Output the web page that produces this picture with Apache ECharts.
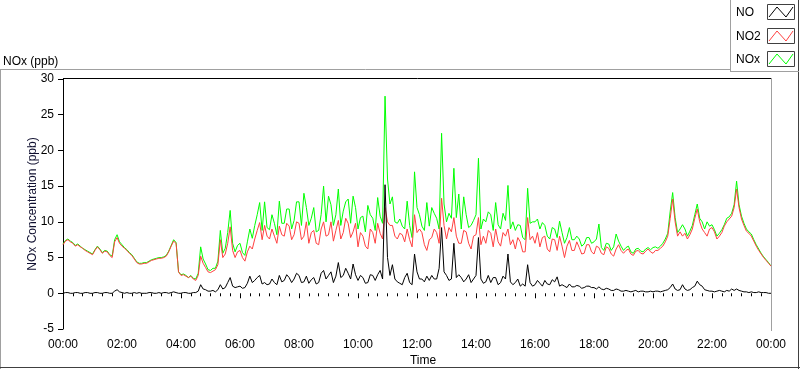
<!DOCTYPE html>
<html><head><meta charset="utf-8">
<script src="https://cdn.jsdelivr.net/npm/echarts@6/dist/echarts.min.js"></script>
<style>html,body{margin:0;padding:0;background:#fff}#c{width:800px;height:369px}</style>
</head><body><div id="c"></div>
<script>
// sampling: one value every 5 minutes from 00:00 to 24:00 (12 values per hour row)
const sampleMinutes = 5;
const xTickLabels = ['00:00','02:00','04:00','06:00','08:00','10:00','12:00','14:00','16:00','18:00','20:00','22:00','00:00'];
const yTicks = [-5, 0, 5, 10, 15, 20, 25, 30];
const seriesNames = ['NO', 'NO2', 'NOx'];

const NO2 = [
6.8,7.3,7.5,7.2,7.0,6.6,6.8,6.5,6.3,6.0,5.8,5.6,
5.4,6.0,6.5,6.1,5.6,5.9,5.8,5.3,5.0,7.2,7.8,7.0,
6.6,6.3,6.0,5.6,5.3,4.8,4.3,4.1,4.1,4.2,4.2,4.4,
4.6,4.7,4.8,4.9,4.9,5.0,5.2,5.8,6.6,7.3,7.0,3.0,
2.5,2.6,2.4,2.2,2.4,2.0,1.8,2.5,5.2,4.2,3.6,3.0,
2.9,3.1,3.3,4.0,7.5,5.0,5.5,7.0,9.3,6.0,5.0,5.8,
6.0,5.0,4.5,5.8,6.6,6.2,7.6,8.8,9.9,7.5,9.5,8.0,
7.6,9.0,8.0,7.0,9.4,8.2,8.0,9.8,9.4,7.5,8.2,10.0,
9.8,7.5,8.0,10.0,7.0,8.5,8.8,7.0,6.8,9.0,10.0,8.0,
8.2,10.0,7.3,8.8,10.2,7.6,8.5,10.5,9.8,7.8,8.6,9.8,
6.5,8.5,8.0,6.6,6.2,9.0,8.5,7.0,9.8,8.4,7.6,12.0,
10.0,9.5,9.5,8.0,7.6,8.4,8.2,7.2,9.0,7.5,6.5,11.0,
8.5,9.0,8.5,6.8,6.0,7.5,7.8,9.0,8.5,7.0,13.3,9.5,
7.6,9.2,8.6,10.6,8.0,7.0,7.0,8.8,8.6,7.0,6.2,8.0,
8.2,10.6,6.8,8.0,7.0,8.8,8.4,6.5,9.0,7.2,6.6,8.5,
8.0,9.0,6.8,7.5,6.2,7.8,7.2,5.8,5.8,10.6,7.5,8.0,
7.0,8.5,6.5,7.8,8.0,6.2,5.8,7.6,7.5,6.0,8.0,6.6,
5.0,6.6,7.4,6.0,6.0,7.2,6.4,5.5,5.6,6.8,6.8,5.8,
5.5,6.6,6.4,5.6,5.4,6.5,6.3,5.5,5.2,6.2,6.8,6.0,
5.6,6.0,6.2,5.5,5.3,5.9,6.0,5.6,5.5,5.9,6.2,5.8,
5.6,6.0,6.0,6.3,6.6,7.2,8.0,10.5,13.2,10.0,8.0,8.6,
8.0,8.4,7.6,8.2,9.0,10.5,11.8,10.0,9.0,8.5,8.0,9.0,
9.2,8.6,7.6,8.0,8.5,9.4,10.0,10.4,10.8,12.0,14.6,12.0,
10.4,9.5,8.7,8.4,8.0,7.3,6.6,6.0,5.5,5.0,4.6,4.2,
3.8];

const NO = [
0.0,0.1,0.1,0.0,0.0,0.1,0.1,0.0,0.0,0.1,0.1,0.0,
0.0,0.1,0.1,0.0,0.0,0.1,0.1,0.0,0.0,0.3,0.5,0.2,
0.1,0.0,0.1,0.0,0.0,0.1,0.0,0.1,0.0,0.0,0.0,0.1,
0.1,0.0,0.0,0.1,0.0,0.1,0.1,0.0,0.1,0.2,0.1,0.0,
0.0,0.1,0.1,0.0,0.0,0.1,0.1,0.3,1.2,0.6,0.5,0.3,
0.3,0.4,0.2,0.5,1.2,0.6,0.8,1.5,2.2,1.0,0.8,0.9,
1.0,0.7,0.8,1.4,2.4,1.5,1.8,2.2,2.5,1.3,1.5,1.2,
1.3,2.0,1.5,1.2,2.5,1.6,1.8,2.6,2.2,1.5,2.0,2.8,
2.5,1.5,1.6,2.4,1.4,1.9,2.2,1.3,1.5,2.8,3.2,2.0,
2.5,3.0,1.5,2.4,4.3,2.2,2.5,3.5,2.8,2.0,4.1,2.6,
1.8,2.5,2.2,1.4,1.5,2.6,2.5,1.8,2.6,3.2,2.0,15.2,
5.0,2.5,4.0,2.0,1.6,1.4,1.2,2.2,2.8,1.5,1.2,5.5,
3.0,2.0,2.0,1.6,2.4,1.8,2.5,2.0,2.0,3.5,9.2,3.0,
2.5,1.8,2.0,7.0,2.2,2.6,2.2,1.6,2.0,2.6,1.5,2.0,
2.5,7.8,2.0,1.4,1.6,2.5,1.5,2.2,2.2,1.2,1.5,2.4,
2.0,5.5,1.6,1.2,1.5,2.0,1.0,1.3,1.0,4.0,1.5,1.0,
1.2,1.8,1.4,1.0,1.8,1.3,1.2,1.9,1.6,2.3,1.0,1.2,
1.0,0.8,1.3,0.9,0.9,1.1,1.0,0.7,0.8,1.0,1.0,0.8,
0.8,0.6,0.9,0.6,0.5,0.7,0.6,0.4,0.4,0.6,0.5,0.3,
0.3,0.4,0.3,0.2,0.3,0.4,0.2,0.3,0.3,0.2,0.2,0.3,
0.2,0.3,0.3,0.2,0.3,0.4,0.5,0.8,1.3,0.6,0.4,0.5,
1.2,0.6,0.4,0.5,0.8,1.0,1.7,1.2,1.0,0.5,0.4,0.3,
0.3,0.2,0.3,0.4,0.3,0.2,0.4,0.3,0.6,0.4,0.6,0.4,
0.3,0.2,0.2,0.1,0.2,0.1,0.1,0.2,0.1,0.1,0.1,0.0,
0.0];

const NOx = [
6.9,7.4,7.6,7.3,7.1,6.7,6.9,6.6,6.3,6.1,5.9,5.7,
5.5,6.1,6.6,6.2,5.7,6.0,5.9,5.4,5.2,7.5,8.2,7.2,
6.8,6.4,6.1,5.7,5.4,4.9,4.4,4.2,4.2,4.3,4.3,4.5,
4.7,4.8,4.9,5.0,5.0,5.1,5.3,5.9,6.7,7.5,7.1,3.0,
2.6,2.7,2.5,2.2,2.5,2.1,2.0,2.8,6.5,4.8,4.1,3.3,
3.2,3.5,3.5,4.5,8.8,5.6,6.3,8.5,11.6,7.0,5.8,6.7,
7.0,5.7,5.3,7.2,9.0,7.7,9.5,11.0,12.7,8.8,12.8,9.2,
8.9,11.0,9.8,8.2,12.9,9.8,9.8,11.8,11.8,9.0,10.2,12.8,
12.8,9.5,14.0,12.0,9.5,10.5,12.0,8.6,8.8,11.0,15.0,10.0,
13.6,12.4,9.5,11.0,14.6,9.5,11.5,12.8,13.2,9.8,13.6,12.0,
9.0,10.6,10.8,8.6,12.3,11.0,10.5,8.8,13.4,10.8,9.8,27.6,
16.0,12.5,13.5,10.0,9.8,10.4,9.4,9.0,12.9,9.5,7.8,17.0,
12.0,11.0,9.4,8.8,12.7,9.4,12.0,11.2,10.5,9.0,22.4,12.5,
10.0,11.2,10.5,17.5,10.6,13.9,9.0,13.5,11.0,9.2,9.5,10.2,
11.0,18.9,9.0,10.4,10.0,11.4,11.0,8.8,12.7,9.6,9.0,11.2,
10.2,15.1,9.0,10.0,8.8,9.6,9.5,7.8,7.5,14.7,9.8,10.0,
10.0,10.4,9.0,9.9,9.5,8.0,7.6,9.2,9.0,7.8,10.1,8.5,
7.0,7.8,9.2,7.5,7.5,8.0,7.6,6.6,6.9,7.8,7.8,7.0,
7.2,7.6,9.7,6.4,6.0,7.0,6.9,6.0,6.5,8.3,7.3,6.6,
6.0,6.4,6.6,5.8,5.6,6.2,6.3,5.9,5.8,6.2,6.4,6.1,
6.4,6.5,6.3,6.6,7.0,7.6,8.4,11.5,14.1,10.6,8.5,9.0,
9.6,9.0,8.0,8.7,9.5,11.0,12.5,10.5,10.0,9.0,10.0,9.4,
9.6,8.9,8.0,8.4,8.9,9.6,10.5,10.7,11.2,12.4,15.7,12.4,
10.8,9.8,9.0,8.6,8.3,7.5,6.8,6.2,5.6,5.1,4.7,4.3,
3.8];

function toPairs(arr) { return arr.map((v, i) => [i * sampleMinutes, v]); }

const FONT = 'Liberation Sans';
const chart = echarts.init(document.getElementById('c'), null, {renderer: 'canvas'});

function legendItem(name, color, y) {
  return [
    {type: 'text', left: 736, top: y + 3, style: {text: name, font: '12px ' + FONT, fill: '#000'}},
    {type: 'rect', shape: {x: 767.5, y: y + 0.5, width: 27, height: 15}, style: {fill: '#fff', stroke: '#404040', lineWidth: 1}},
    {type: 'polyline', shape: {points: [[769, y + 13], [777, y + 3], [786, y + 13], [793, y + 3]]}, style: {stroke: color, lineWidth: 1, fill: null}}
  ];
}

const option = {
  animation: false,
  backgroundColor: '#fff',
  textStyle: {fontFamily: FONT},
  grid: {left: 63, top: 79, width: 708, height: 250, containLabel: false, outerBoundsMode: 'none'},
  xAxis: {
    type: 'value', min: 0, max: 1440, interval: 120, offset: 2,
    name: 'Time', nameLocation: 'middle', nameGap: 24, nameMoveOverlap: false,
    nameTextStyle: {fontFamily: FONT, fontSize: 12, color: '#000', padding: [0, 0, 0, 12]},
    axisLine: {show: false},
    axisTick: {show: true, length: 5, lineStyle: {color: '#000'}},
    minorTick: {show: true, splitNumber: 6, length: 3, lineStyle: {color: '#000'}},
    axisLabel: {margin: 8, fontFamily: FONT, fontSize: 12, color: '#000',
      formatter: v => xTickLabels[Math.round(v / 120)]},
    splitLine: {show: false}
  },
  yAxis: {
    type: 'value', min: yTicks[0], max: yTicks[yTicks.length - 1], interval: 5,
    name: 'NOx Concentration (ppb)', nameLocation: 'middle', nameGap: 24, nameRotate: 90, nameMoveOverlap: false,
    nameTextStyle: {fontFamily: FONT, fontSize: 12, color: '#101030'},
    axisLine: {show: true, lineStyle: {color: '#000', width: 1}},
    axisTick: {show: true, length: 5, lineStyle: {color: '#000'}},
    axisLabel: {margin: 9, fontFamily: FONT, fontSize: 12, color: '#000'},
    splitLine: {show: false}
  },
  series: [
    {name: seriesNames[2], type: 'line', data: toPairs(NOx), showSymbol: false, symbol: 'none',
     lineStyle: {color: '#00ff00', width: 1}, itemStyle: {color: '#00ff00'}, z: 2},
    {name: seriesNames[1], type: 'line', data: toPairs(NO2), showSymbol: false, symbol: 'none',
     lineStyle: {color: '#ff4040', width: 1}, itemStyle: {color: '#ff4040'}, z: 3},
    {name: seriesNames[0], type: 'line', data: toPairs(NO), showSymbol: false, symbol: 'none',
     lineStyle: {color: '#000000', width: 1}, itemStyle: {color: '#000'}, z: 4}
  ],
  graphic: [].concat(
    [
      {type: 'text', left: 3, top: 56, style: {text: 'NOx (ppb)', font: '12px ' + FONT, fill: '#000'}},
      {type: 'line', shape: {x1: 0, y1: 69.5, x2: 731, y2: 69.5}, style: {stroke: '#a0a0a0', lineWidth: 1}},
      {type: 'line', shape: {x1: 0.5, y1: 69, x2: 0.5, y2: 369}, style: {stroke: '#a0a0a0', lineWidth: 1}},
      {type: 'line', shape: {x1: 0, y1: 367.5, x2: 800, y2: 367.5}, style: {stroke: '#404040', lineWidth: 1}},
      {type: 'line', shape: {x1: 798.5, y1: 0, x2: 798.5, y2: 369}, style: {stroke: '#404040', lineWidth: 1}},
      {type: 'line', shape: {x1: 730.5, y1: 0, x2: 730.5, y2: 72}, style: {stroke: '#a0a0a0', lineWidth: 1}},
      {type: 'line', shape: {x1: 730, y1: 71.5, x2: 799, y2: 71.5}, style: {stroke: '#a0a0a0', lineWidth: 1}},
      {type: 'line', shape: {x1: 63, y1: 78.5, x2: 772, y2: 78.5}, style: {stroke: '#000', lineWidth: 1}, z: 10},
      {type: 'line', shape: {x1: 771.5, y1: 78, x2: 771.5, y2: 331}, style: {stroke: '#a0a0a0', lineWidth: 1}, z: 10}
    ],
    legendItem('NO', '#000000', 4),
    legendItem('NO2', '#ff4040', 28),
    legendItem('NOx', '#00ff00', 51)
  )
};
chart.setOption(option);
</script>
</body></html>
